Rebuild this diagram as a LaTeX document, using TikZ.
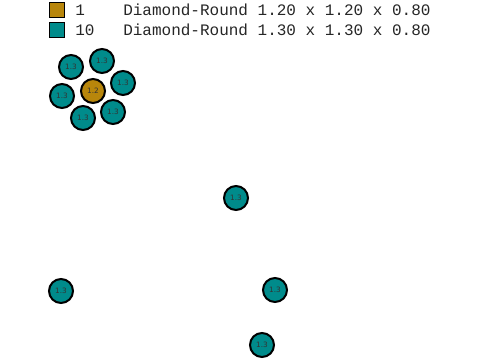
\documentclass[tikz,border=0pt]{standalone}
\usepackage{fontspec}
\setmonofont{Liberation Mono}
\setsansfont{DejaVu Sans}
\usepackage{tikz}
\usetikzlibrary{positioning}

\definecolor{goldfill}{RGB}{184,134,11}
\definecolor{tealfill}{RGB}{0,139,139}

\tikzset{
    hole/.style={circle, draw=black, line width=1.5pt, minimum size=18pt, inner sep=0pt,
        font=\sffamily\fontsize{5.5}{6}\selectfont, text=black!80},
    keybox/.style={rectangle, draw=black, line width=1.2pt, minimum size=11.5pt, inner sep=0pt},
    keytext/.style={anchor=west, inner sep=0pt, font=\ttfamily\fontsize{12}{14}\selectfont, text=black!85}
}

\begin{document}
\begin{tikzpicture}[x=0.75pt,y=-0.75pt]
        \useasboundingbox (0,0) rectangle (480,360);
        %\draw[step=20,gray,very thin] (0,0) grid (480,360);

        % Legend.
        \node[keybox, fill=goldfill] (key1) at (57,10) {};
        \node[keybox, fill=tealfill] (key2) at (57,30) {};
        \node[keytext] (count1) at (75,10) {1};
        \node[keytext] (count2) at (75,30) {10};
        \node[keytext] (desc1) at (123,10) {Diamond-Round 1.20 x 1.20 x 0.80};
        \node[keytext] (desc2) at (123,30) {Diamond-Round 1.30 x 1.30 x 0.80};

        % Cluster.
        \node[hole, fill=goldfill] (c0) at (93,91) {1.2};
        \node[hole, fill=tealfill] (c1) at (71,67) {1.3};
        \node[hole, fill=tealfill] (c2) at (102,61) {1.3};
        \node[hole, fill=tealfill] (c3) at (123,83) {1.3};
        \node[hole, fill=tealfill] (c4) at (62,96) {1.3};
        \node[hole, fill=tealfill] (c5) at (83,118) {1.3};
        \node[hole, fill=tealfill] (c6) at (113,112) {1.3};

        % Single stones.
        \node[hole, fill=tealfill] (s1) at (236,198) {1.3};
        \node[hole, fill=tealfill] (s2) at (61,291) {1.3};
        \node[hole, fill=tealfill] (s3) at (275,290) {1.3};
        \node[hole, fill=tealfill] (s4) at (262,345) {1.3};

    \end{tikzpicture}
\end{document}
